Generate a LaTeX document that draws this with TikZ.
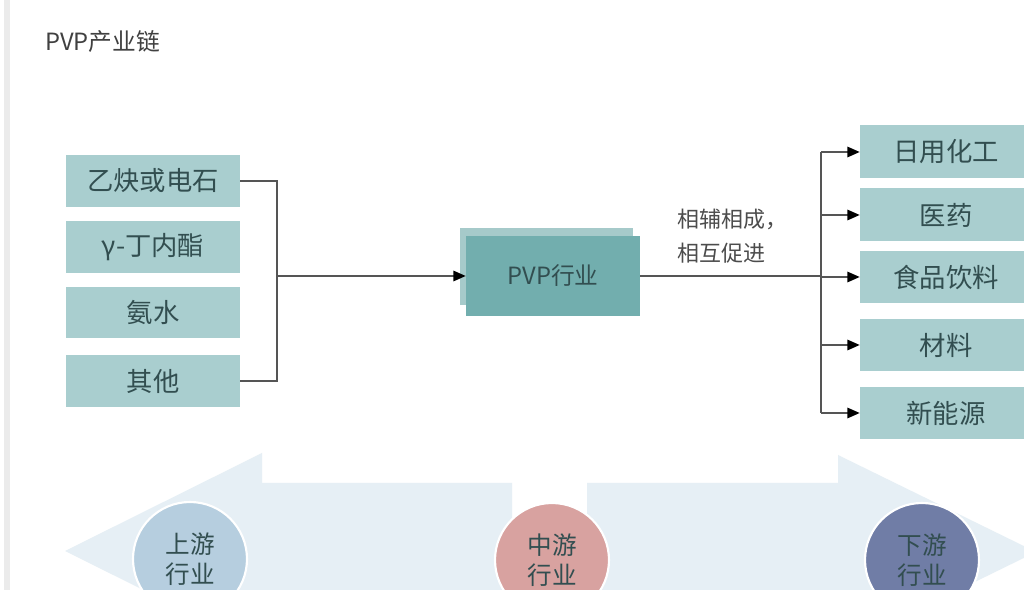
\documentclass[tikz,border=0pt]{standalone}
\usepackage{fontspec}
\setmainfont{Noto Sans CJK SC}
\usetikzlibrary{arrows.meta}

\definecolor{boxfill}{RGB}{169,206,207}
\definecolor{boxtext}{RGB}{50,78,80}
\definecolor{pvpfront}{RGB}{114,174,174}
\definecolor{pvpback}{RGB}{166,202,202}
\definecolor{paleblue}{RGB}{230,239,245}
\definecolor{upcol}{RGB}{182,206,223}
\definecolor{midcol}{RGB}{216,162,160}
\definecolor{downcol}{RGB}{112,125,166}
\definecolor{linegray}{RGB}{85,85,85}

\begin{document}
\begin{tikzpicture}[x=0.02cm,y=-0.02cm,
	srcbox/.style={fill=boxfill, text=boxtext, minimum width=3.48cm, minimum height=1.04cm, inner sep=0pt, font=\fontsize{15}{18}\selectfont},
	usebox/.style={fill=boxfill, text=boxtext, minimum width=3.44cm, minimum height=1.06cm, inner sep=0pt, font=\fontsize{15}{18}\selectfont},
	conn/.style={draw=linegray, line width=0.8pt},
	tip/.style={-{Triangle[length=7pt,width=6pt,color=black]}},
	stage/.style={circle, draw=white, line width=1.2pt, minimum size=2.28cm, inner sep=0pt, align=center, text=boxtext, font=\fontsize{14}{17}\selectfont}]
	% Page size and clip
	\useasboundingbox (0,0) rectangle (1024,590);
	\clip (0,0) rectangle (1024,590);
	\fill[white] (0,0) rectangle (1024,590);
	\draw[black!8, line width=3pt] (7,0) -- (7,590);
	
	% Title
	\node[anchor=west, text=black!75, font=\fontsize{13.5}{16}\selectfont] (title) at (39,42) {PVP产业链};
	
	% Big pale arrows at the bottom
	\fill[paleblue] (512,483) -- (262,483) -- (262,453) -- (65,551) -- (262,649) -- (262,620) -- (512,620) -- cycle;
	\fill[paleblue] (587,483) -- (838,483) -- (838,455) -- (1036,552) -- (838,649) -- (838,620) -- (587,620) -- cycle;
	
	% Upstream raw materials
	\node[srcbox] (s1) at (153,181) {乙炔或电石};
	\node[srcbox] (s2) at (153,247.5) {γ-丁内酯};
	\node[srcbox] (s3) at (153,312.5) {氨水};
	\node[srcbox] (s4) at (153,381) {其他};
	
	% PVP industry
	\fill[pvpback] (460,228) rectangle (633,305);
	\node[fill=pvpfront, text=boxtext, minimum width=3.48cm, minimum height=1.6cm, inner sep=0pt, font=\fontsize{13.5}{16}\selectfont] (pvp) at (553,276) {PVP行业};
	
	% Downstream uses
	\node[usebox] (d1) at (946,152) {日用化工};
	\node[usebox] (d2) at (946,215) {医药};
	\node[usebox] (d3) at (946,277) {食品饮料};
	\node[usebox] (d4) at (946,345) {材料};
	\node[usebox] (d5) at (946,413) {新能源};
	
	% Junctions
	\coordinate (LJ) at (277,276);
	\coordinate (RJ) at (821,276);
	
	% Left bracket
	\draw[conn] (s1.east) -| (LJ) |- (s4.east);
	\draw[conn, tip] (LJ) -- (pvp.west);
	
	% Right bracket
	\draw[conn] (pvp.east) -- (RJ);
	\draw[conn] (d1.west -| RJ) -- (d5.west -| RJ);
	\foreach \i in {1,...,5}
		\draw[conn, tip] (d\i.west -| RJ) -- (d\i.west);
	
	\node[anchor=west, align=left, text=black!70, font=\fontsize{12.5}{19}\selectfont] (note) at (671,236) {相辅相成，\\相互促进};
	
	% Stages
	\node[stage, fill=upcol] (up) at (190,559) {上游\\行业};
	\node[stage, fill=midcol] (mid) at (552,560) {中游\\行业};
	\node[stage, fill=downcol] (down) at (922,560) {下游\\行业};
\end{tikzpicture}
\end{document}
